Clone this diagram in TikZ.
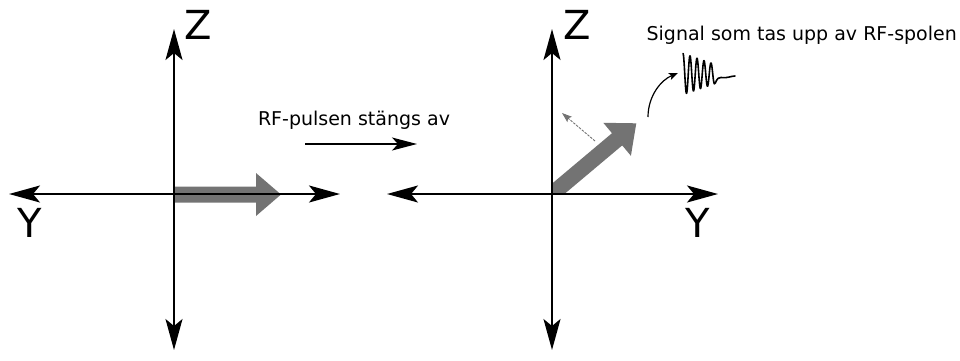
\documentclass[tikz,border=0pt]{standalone}
\usepackage{fontspec}
\setmainfont{DejaVu Sans}
\usetikzlibrary{arrows.meta}
\definecolor{vecgray}{HTML}{737373}
\tikzset{
  axisline/.style={line width=2pt, {Stealth[length=31pt,width=17pt,inset=7pt]}-{Stealth[length=31pt,width=17pt,inset=7pt]}},
  axislabel/.style={font=\fontsize{40}{40}\selectfont, inner sep=0pt},
  smalltext/.style={font=\fontsize{19}{21}\selectfont, inner sep=0pt},
  vecshape/.style={fill=vecgray, draw=none},
}
\begin{document}
\begin{tikzpicture}[x=1pt,y=-1pt]
\useasboundingbox (0,0) rectangle (960,360);
% ---------- left diagram ----------
\coordinate (LL) at (9,194);
\coordinate (LR) at (340,194);
\coordinate (LT) at (174,29);
\coordinate (LB) at (174,350);
\fill[vecshape] (174,186.5) -- (256,186.5) -- (256,173) -- (281,194.5) -- (256,216) -- (256,202.5) -- (174,202.5) -- cycle;
\draw[axisline] (LL) -- (LR);
\draw[axisline] (LB) -- (LT);
\node[axislabel] (lz) at (198,25) {Z};
\node[axislabel] (ly) at (30,223) {Y};
% ---------- transition ----------
\node[smalltext] (rf) at (354,120) {RF-pulsen stängs av};
\coordinate (rfa) at (305,144);
\coordinate (rfb) at (417,144);
\draw[line width=1.3pt, -{Stealth[length=25pt,width=13pt,inset=6pt]}] (rfa) -- (rfb);
% ---------- right diagram ----------
\coordinate (RL) at (387,194);
\coordinate (RR) at (718,194);
\coordinate (RT) at (552,29);
\coordinate (RB) at (552,350);
\begin{scope}
  \clip (552,0) rectangle (960,194);
  \fill[vecshape] (541.8,213.0) -- (622.2,145.4) -- (630.9,155.8) -- (636.3,123.3) -- (603.3,122.8) -- (612.0,133.2) -- (531.6,200.8) -- cycle;
\end{scope}
\draw[axisline] (RL) -- (RR);
\draw[axisline] (RB) -- (RT);
\node[axislabel] (rz) at (577,25) {Z};
\node[axislabel] (ry) at (698,223) {Y};
% thin precession arrow
\coordinate (pa) at (595,141);
\coordinate (pb) at (562,113);
\draw[vecgray, line width=0.9pt, dash pattern=on 2.5pt off 1.2pt, -{Stealth[length=10pt,width=7pt,inset=2pt]}] (pa) -- (pb);
% signal
\node[smalltext, anchor=east] (sig) at (957,35) {Signal som tas upp av RF-spolen};
\coordinate (ca) at (648,117);
\coordinate (cb) at (678,73);
\draw[line width=1.2pt, -{Stealth[length=9pt,width=7pt,inset=2pt]}] (ca) .. controls (648,96) and (661,80) .. (cb);
\draw[line width=1.6pt, line join=round, line cap=round]
  plot[domain=0:31.5, samples=260, variable=\t] ({683+\t},{74 - (20.5 - 0.34*\t)*cos(\t*360/7)})
  .. controls (716,84) and (716,77) .. (721,77.5)
  .. controls (727,78.5) and (731,76) .. (735,76);
\end{tikzpicture}
\end{document}
